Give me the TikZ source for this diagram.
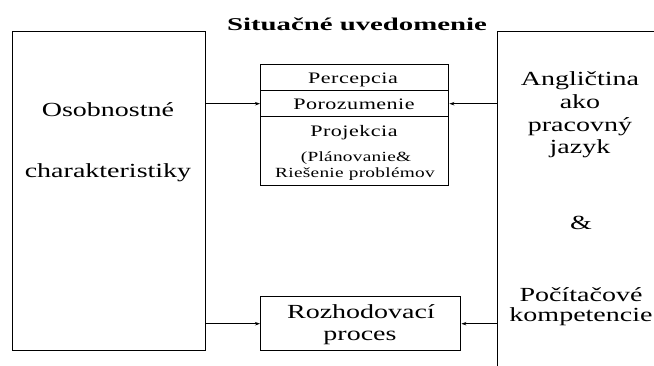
\documentclass[tikz,border=0pt]{standalone}
\usepackage{fontspec}
\setmainfont{Liberation Serif}
\newfontfamily\bigfont{Liberation Serif}[FakeStretch=1.4]
\newfontfamily\rowfont{Liberation Serif}[FakeStretch=1.38,LetterSpace=3]
\newfontfamily\notefont{Liberation Serif}[FakeStretch=1.38,LetterSpace=2]
\newfontfamily\headfont{Liberation Serif}[FakeStretch=1.6]
\usetikzlibrary{arrows.meta}

\begin{document}
\begin{tikzpicture}[x=1pt,y=-1pt,
  box/.style={draw, line width=1.4pt, inner sep=0pt, anchor=north west},
  txt/.style={inner sep=0pt, anchor=base},
  bigtext/.style={txt, font=\bigfont\fontsize{20}{23}\selectfont},
  rowtext/.style={txt, font=\rowfont\fontsize{16}{19}\selectfont},
  notetext/.style={txt, font=\notefont\fontsize{14}{17}\selectfont},
  headtext/.style={txt, font=\headfont\bfseries\fontsize{18}{22}\selectfont},
  link/.style={line width=1.1pt, -{Stealth[length=5pt,width=3.5pt]}}]
\clip (0,0) rectangle (654,365);

% heading
\node[headtext] (title) at (357,30) {Situačné uvedomenie};

% outer blocks
\node[box, minimum width=193pt, minimum height=319pt] (traits) at (12,31) {};
\node[box, minimum width=200pt, minimum height=400pt] (skills) at (497,31) {};

% situation awareness levels
\node[box, minimum width=188pt, minimum height=26pt] (perc) at (260,64) {};
\node[box, minimum width=188pt, minimum height=26pt] (poro) at (260,90) {};
\node[box, minimum width=188pt, minimum height=69pt] (proj) at (260,116) {};

% decision block
\node[box, minimum width=200pt, minimum height=54pt] (decide) at (260,296) {};

% labels
\node[bigtext] (t1) at (108,116) {Osobnostné};
\node[bigtext] (t2) at (108,177) {charakteristiky};

\node[rowtext] (p1) at (353,83.5) {Percepcia};
\node[rowtext] (p2) at (354,109.5) {Porozumenie};
\node[rowtext] (p3) at (354,136.5) {Projekcia};
\node[notetext] (p4) at (356,161.5) {(Plánovanie\&};
\node[notetext] (p5) at (355,177.5) {Riešenie problémov};

\node[bigtext] (s1) at (580,85) {Angličtina};
\node[bigtext] (s2) at (580,108) {ako};
\node[bigtext] (s3) at (580,131) {pracovný};
\node[bigtext] (s4) at (580,153) {jazyk};
\node[bigtext] (s5) at (581,229) {\&};
\node[bigtext] (s6) at (581,301.5) {Počítačové};
\node[bigtext] (s7) at (581,321.5) {kompetencie};

\node[bigtext] (d1) at (361,318.5) {Rozhodovací};
\node[bigtext] (d2) at (360,340) {proces};

% connectors
\draw[link] (traits.east |- poro.west) -- (poro.west);
\draw[link] (skills.west |- poro.east) -- (poro.east);
\draw[link] (traits.east |- decide.west) -- (decide.west);
\draw[link] (skills.west |- decide.east) -- (decide.east);
\end{tikzpicture}
\end{document}
